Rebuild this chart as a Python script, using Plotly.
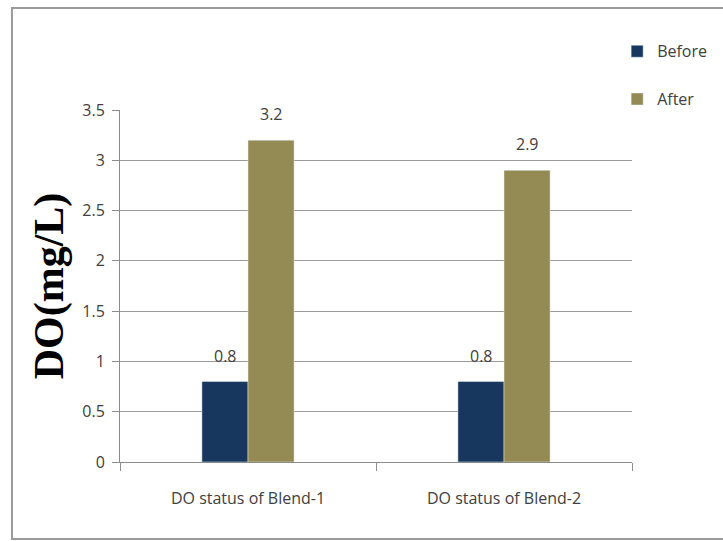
import plotly.graph_objects as go

# Dissolved oxygen before and after treatment for each blend
categories = ["DO status of Blend-1", "DO status of Blend-2"]
before_vals = [0.8, 0.8]
after_vals = [3.2, 2.9]
y_ticks = [0, 0.5, 1, 1.5, 2, 2.5, 3, 3.5]
y_tick_text = ["0", "0.5", "1", "1.5", "2", "2.5", "3", "3.5"]

NAVY = "#17375E"
OLIVE = "#948A54"
LABEL_FONT = "Open Sans, sans-serif"
TEXT_GRAY = "#404040"

fig = go.Figure()
fig.add_trace(go.Bar(name="Before", x=categories, y=before_vals,
                     marker_color=NAVY, legendgroup="b"))
fig.add_trace(go.Bar(name="After", x=categories, y=after_vals,
                     marker_color=OLIVE, legendgroup="a"))

# value labels floating above each bar
annotations = []
for vals, shift in ((before_vals, -23), (after_vals, 23)):
    for cat, v in zip(categories, vals):
        annotations.append(dict(
            x=cat, y=v, xref="x", yref="y", text=f"{v:g}",
            showarrow=False, xshift=shift, yshift=26,
            font=dict(family=LABEL_FONT, size=16, color=TEXT_GRAY),
        ))

# axis title drawn as rotated text
annotations.append(dict(
    x=-0.138, y=0.5, xref="paper", yref="paper", text="<b>DO(mg/L)</b>",
    textangle=-90, showarrow=False, xanchor="center", yanchor="middle",
    font=dict(family="Liberation Serif, Times New Roman, serif", size=42, color="#000000"),
))

fig.update_layout(
    width=723, height=541,
    margin=dict(l=120, r=91, t=110, b=79, autoexpand=False),
    paper_bgcolor="white", plot_bgcolor="white",
    barmode="group", bargap=0.64, bargroupgap=0,
    showlegend=True,
    legend=dict(x=0.971, y=1.215, xanchor="left", yanchor="top",
                tracegroupgap=24, itemwidth=30,
                font=dict(family=LABEL_FONT, size=16, color=TEXT_GRAY),
                bgcolor="rgba(0,0,0,0)"),
    annotations=annotations,
    shapes=[dict(type="rect", xref="paper", yref="paper",
                 x0=-0.211, x1=1.3, y0=-0.219, y1=1.29,
                 line=dict(color="#9a9a9a", width=2), layer="below")],
)

fig.update_xaxes(
    type="category", range=[-0.5, 1.5],
    showline=True, linecolor="#8c8c8c", linewidth=1,
    ticks="outside", tickson="boundaries", ticklen=8, tickcolor="#8c8c8c",
    ticklabelstandoff=22,
    showgrid=False,
    tickfont=dict(family=LABEL_FONT, size=16, color=TEXT_GRAY),
)
fig.update_yaxes(
    range=[0, 3.5], tickvals=y_ticks, ticktext=y_tick_text,
    showline=True, linecolor="#8c8c8c", linewidth=1,
    ticks="outside", ticklen=7, tickcolor="#8c8c8c",
    ticklabelstandoff=4,
    showgrid=True, gridcolor="#9a9a9a", gridwidth=1,
    zeroline=False,
    tickfont=dict(family=LABEL_FONT, size=16, color=TEXT_GRAY),
)

fig.write_html("out.html")
